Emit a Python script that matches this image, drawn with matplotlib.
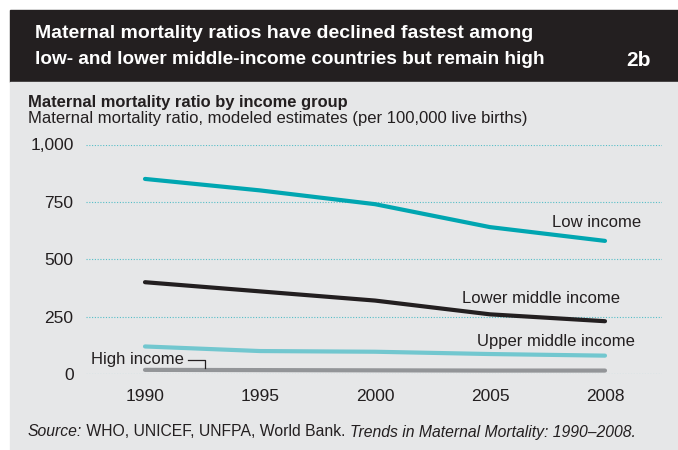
import numpy as np
import matplotlib.pyplot as plt
from matplotlib.patches import Rectangle

plt.rcParams['font.family'] = 'Liberation Sans'

# data
years = ['1990', '1995', '2000', '2005', '2008']
low_income = [850, 800, 740, 640, 580]
lower_middle = [400, 360, 320, 260, 230]
upper_middle = [120, 100, 97, 87, 80]
high_income = [18, 17, 16, 15, 15]
yticks = [0, 250, 500, 750, 1000]
ytick_labels = ['0', '250', '500', '750', '1,000']

W, H = 678, 450
fig = plt.figure(figsize=(W / 100, H / 100), dpi=100)
fig.patch.set_facecolor('white')

def fx(px):
    return px / W

def fy(py):
    return 1 - py / H

# header and panel (behind the axes)
fig.patches.append(Rectangle((fx(10), fy(82)), fx(668), (72) / H,
                             transform=fig.transFigure, color='#231f20', zorder=-2))
fig.patches.append(Rectangle((fx(10), 0), fx(668), fy(82),
                             transform=fig.transFigure, color='#e6e7e8', zorder=-2))

fig.text(fx(35), fy(33), 'Maternal mortality ratios have declined fastest among',
         color='white', fontsize=14, fontweight='bold', va='center')
fig.text(fx(35), fy(60), 'low- and lower middle-income countries but remain high',
         color='white', fontsize=13.7, fontweight='bold', va='center')
fig.text(fx(651), fy(60), '2b', color='white', fontsize=15, fontweight='bold',
         va='center', ha='right')

fig.text(fx(28), fy(102), 'Maternal mortality ratio by income group',
         color='#231f20', fontsize=11.9, fontweight='bold', va='center')
fig.text(fx(28), fy(118), 'Maternal mortality ratio, modeled estimates (per 100,000 live births)',
         color='#231f20', fontsize=12, va='center')

# axes: x from 86 to 662 px, y 0 at 374 px, 1000 at 144.5 px
ax = fig.add_axes([fx(86), fy(374), (662 - 86) / W, (374 - 144.5) / H])
ax.set_facecolor('none')
x = np.arange(len(years))
ax.set_xlim((86 - 145) / 115, (662 - 145) / 115)
ax.set_ylim(0, 1000)

for s in ax.spines.values():
    s.set_visible(False)
ax.set_yticks(yticks)
ax.set_yticklabels(ytick_labels)
ax.set_xticks(x)
ax.set_xticklabels(years)
ax.tick_params(length=0, labelsize=12.5, colors='#231f20')
ax.tick_params(axis='y', pad=9)
ax.tick_params(axis='x', pad=11)
ax.yaxis.grid(True, color='#55bec7', linestyle=(0, (1, 1.5)), linewidth=0.8)
ax.set_axisbelow(True)

lw = 3.0
ax.plot(x, high_income, color='#939598', lw=lw, solid_capstyle='round', clip_on=False)
ax.plot(x, upper_middle, color='#72c7cf', lw=lw, solid_capstyle='round', clip_on=False)
ax.plot(x, lower_middle, color='#231f20', lw=lw, solid_capstyle='round', clip_on=False)
ax.plot(x, low_income, color='#00a6b1', lw=lw, solid_capstyle='round', clip_on=False)

lab = dict(fontsize=12, color='#231f20', va='center', ha='right')
ax.text(4.31, 660, 'Low income', **lab)
ax.text(4.13, 331, 'Lower middle income', **lab)
ax.text(4.26, 142, 'Upper middle income', **lab)
ax.text(0.34, 62, 'High income', **lab)
# bracket from the High income label down to its line
ax.plot([0.37, 0.52, 0.52], [62, 62, high_income[0] + 8], color='#231f20', lw=0.9)

# source line, mixed italic / regular
r = fig.canvas.get_renderer()
parts = [('Source:', 'italic'), (' WHO, UNICEF, UNFPA, World Bank. ', 'normal'),
         ('Trends in Maternal Mortality: 1990\u20132008.', 'italic')]
xpos = fx(28)
for s, st in parts:
    t = fig.text(xpos, fy(432), s, fontsize=11.3, style=st, color='#231f20', va='center')
    bb = t.get_window_extent(renderer=r)
    xpos += bb.width / W

fig.savefig('out.png', dpi=100)
